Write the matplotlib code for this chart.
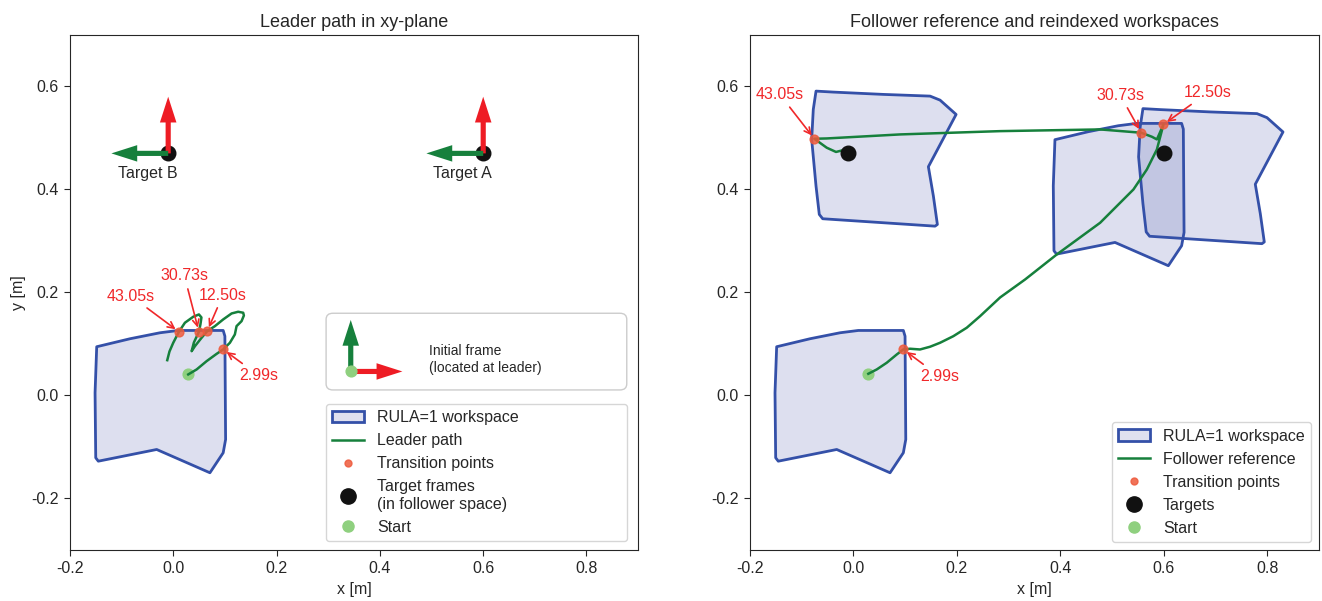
import numpy as np
import matplotlib
matplotlib.use("Agg")
import matplotlib.pyplot as plt
from matplotlib.patches import Polygon, Patch, FancyBboxPatch
from matplotlib.lines import Line2D

plt.rcParams['font.family'] = ['Liberation Sans', 'DejaVu Sans']
plt.rcParams['font.size'] = 11.5
plt.rcParams['axes.unicode_minus'] = False
plt.rcParams['text.color'] = '#262626'
plt.rcParams['axes.labelcolor'] = '#262626'
plt.rcParams['axes.edgecolor'] = '#262626'
plt.rcParams['xtick.color'] = '#262626'
plt.rcParams['ytick.color'] = '#262626'
plt.rcParams['xtick.major.size'] = 4.5
plt.rcParams['ytick.major.size'] = 4.5

# RULA=1 workspace outline (leader frame) and its rotated version
ws_x = [-0.1484, -0.0839, -0.0259, 0.0095, 0.0965, 0.0998, 0.1012, 0.0965,
        0.0708, -0.0323, -0.1453, -0.1503, -0.1516]
ws_y = [0.0946, 0.1101, 0.1217, 0.1262, 0.1262, 0.1151, -0.0854, -0.1113,
        -0.1501, -0.1049, -0.1276, -0.1210, 0.0052]
ws_rot_x = [-0.0723, -0.0389, 0.0578, 0.1482, 0.1675, 0.1985, 0.1449, 0.1546,
            0.1623, 0.1578, -0.0594, -0.0660, -0.0723, -0.0807, -0.0776]
ws_rot_y = [0.5909, 0.5890, 0.5845, 0.5812, 0.5734, 0.5456, 0.4441, 0.3870,
            0.3320, 0.3287, 0.3431, 0.3515, 0.4064, 0.4971, 0.5553]
ws_shift = (0.538, 0.402)
ws_rot_shift = (0.632, -0.034)

# leader path
leader_x = [0.0288, 0.0451, 0.0644, 0.0838, 0.0965, 0.1095, 0.1191, 0.1224,
            0.1321, 0.1366, 0.1352, 0.1255, 0.1128, 0.0965, 0.0805, 0.0656,
            0.0547, 0.0418, 0.0354, 0.0398, 0.0495, 0.0524, 0.0544, 0.0495,
            0.0385, 0.0224, 0.0108, -0.0002, -0.0075, -0.0118]
leader_y = [0.0408, 0.0505, 0.0666, 0.0808, 0.0893, 0.1023, 0.1184, 0.1346,
            0.1443, 0.1553, 0.1606, 0.1625, 0.1592, 0.1476, 0.1346, 0.1249,
            0.1120, 0.0957, 0.0860, 0.1029, 0.1237, 0.1379, 0.1515, 0.1573,
            0.1528, 0.1412, 0.1237, 0.1023, 0.0854, 0.0685]

# follower reference
follower_x = [0.0288, 0.0451, 0.0644, 0.0838, 0.0965, 0.1095, 0.1288, 0.1482,
              0.1675, 0.1932, 0.2191, 0.2449, 0.2836, 0.3319, 0.3932, 0.4770,
              0.5414, 0.5673, 0.5867, 0.5994, 0.5867, 0.5770, 0.5563, 0.4770,
              0.2836, 0.0901, -0.0516, -0.0756, -0.0516, -0.0337, -0.0195]
follower_y = [0.0421, 0.0505, 0.0635, 0.0796, 0.0893, 0.0907, 0.0893, 0.0946,
              0.1023, 0.1151, 0.1315, 0.1540, 0.1903, 0.2252, 0.2738, 0.3353,
              0.4000, 0.4388, 0.4777, 0.5262, 0.4971, 0.5023, 0.5101, 0.5165,
              0.5132, 0.5068, 0.4990, 0.4984, 0.4810, 0.4728, 0.4763]

trans_labels = ['2.99s', '12.50s', '30.73s', '43.05s']
leader_trans_x = [0.0965, 0.0656, 0.0495, 0.0108]
leader_trans_y = [0.0893, 0.1249, 0.1237, 0.1237]
follower_trans_x = [0.0965, 0.5994, 0.5563, -0.0756]
follower_trans_y = [0.0893, 0.5262, 0.5101, 0.4984]
leader_label_x = [0.165, 0.096, 0.0215, -0.082]
leader_label_y = [0.039, 0.195, 0.232, 0.193]
follower_label_x = [0.166, 0.685, 0.516, -0.142]
follower_label_y = [0.0375, 0.588, 0.583, 0.584]

target_names = ['Target A', 'Target B']
target_x = [0.60, -0.01]
target_y = [0.47, 0.47]
start_xy = (0.029, 0.042)
init_frame_xy = (0.3435, 0.0466)

c_edge = '#3450a8'
c_fill = '#5862b0'
c_path = '#16803c'
c_red = '#ee1c24'
c_trans = '#ee5a3c'
c_start = '#8fd07f'
c_text_red = '#f0282a'


def add_ws(ax, xs, ys, shift=(0.0, 0.0)):
    pts = np.column_stack([np.array(xs) + shift[0], np.array(ys) + shift[1]])
    ax.add_patch(Polygon(pts, closed=True, facecolor=c_fill, alpha=0.2,
                         edgecolor='none', zorder=1))
    ax.add_patch(Polygon(pts, closed=True, facecolor='none', edgecolor=c_edge,
                         lw=2, joinstyle='round', zorder=1.5))


def annotate_trans(ax, px, py, lx, ly):
    for lab, x, y, tx, ty in zip(trans_labels, px, py, lx, ly):
        ax.annotate(lab, xy=(x, y), xytext=(tx, ty), color=c_text_red,
                    fontsize=11.5, ha='center', va='center',
                    arrowprops=dict(arrowstyle='->', color=c_text_red, lw=1.2,
                                    shrinkA=2, shrinkB=3), zorder=6)


def setup(ax, title):
    ax.set_xlim(-0.2, 0.9)
    ax.set_ylim(-0.3, 0.7)
    ax.set_xticks(np.arange(-0.2, 0.81, 0.2))
    ax.set_yticks(np.arange(-0.2, 0.61, 0.2))
    ax.xaxis.set_major_formatter(plt.FormatStrFormatter('%.1f'))
    ax.yaxis.set_major_formatter(plt.FormatStrFormatter('%.1f'))
    ax.set_title(title, fontsize=13)
    ax.set_xlabel('x [m]')


fig = plt.figure(figsize=(13.22, 6.01), dpi=100)
ax1 = fig.add_axes([0.053, 0.0849, 0.4297, 0.857])
ax2 = fig.add_axes([0.5673, 0.0849, 0.4304, 0.857])

# left: leader path
setup(ax1, 'Leader path in xy-plane')
ax1.set_ylabel('y [m]')
add_ws(ax1, ws_x, ws_y)
ax1.plot(leader_x, leader_y, color=c_path, lw=1.8, zorder=3)
ax1.scatter(leader_trans_x, leader_trans_y, s=40, color=c_trans, alpha=0.85, zorder=4)
ax1.scatter(target_x, target_y, s=110, color='#111111', zorder=4)
ax1.scatter([start_xy[0]], [start_xy[1]], s=60, color=c_start, zorder=2.5)
for name, tx, ty in zip(target_names, target_x, target_y):
    ax1.arrow(tx, ty, 0, 0.11, width=0.01, head_width=0.032, head_length=0.05,
              length_includes_head=True, color=c_red, lw=0, zorder=5)
    ax1.arrow(tx, ty, -0.11, 0, width=0.01, head_width=0.032, head_length=0.05,
              length_includes_head=True, color=c_path, lw=0, zorder=5)
    ax1.text(tx - 0.04, ty - 0.039, name, ha='center', va='center')
annotate_trans(ax1, leader_trans_x, leader_trans_y, leader_label_x, leader_label_y)

# initial frame box
ax1.add_patch(FancyBboxPatch((0.4507, 0.3107), 0.5293, 0.1489,
                             boxstyle='round,pad=0,rounding_size=0.012',
                             transform=ax1.transAxes, facecolor='white',
                             edgecolor='0.8', lw=1, zorder=4))
ix, iy = init_frame_xy
ax1.arrow(ix, iy, 0, 0.1, width=0.01, head_width=0.032, head_length=0.05,
          length_includes_head=True, color=c_path, lw=0, zorder=5)
ax1.arrow(ix, iy, 0.1, 0, width=0.01, head_width=0.032, head_length=0.05,
          length_includes_head=True, color=c_red, lw=0, zorder=5)
ax1.scatter([ix], [iy], s=60, color=c_start, zorder=6)
ax1.text(0.495, 0.070, 'Initial frame\n(located at leader)', fontsize=10,
         ha='left', va='center', zorder=6)

h_ws = Patch(facecolor='#dfe0ef', edgecolor=c_edge, lw=2)
h_path = Line2D([], [], color=c_path, lw=1.8)
h_trans = Line2D([], [], ls='none', marker='o', ms=5, color=c_trans, alpha=0.85)
h_tgt = Line2D([], [], ls='none', marker='o', ms=11, color='#111111')
h_start = Line2D([], [], ls='none', marker='o', ms=8, color=c_start)
ax1.legend([h_ws, h_path, h_trans, h_tgt, h_start],
           ['RULA=1 workspace', 'Leader path', 'Transition points',
            'Target frames\n(in follower space)', 'Start'],
           loc='lower left', bbox_to_anchor=(0.4507, 0.0175, 0.5293, 0.25),
           mode='expand', borderaxespad=0, fontsize=11.5, handlelength=2.0)

# right: follower reference
setup(ax2, 'Follower reference and reindexed workspaces')
add_ws(ax2, ws_x, ws_y)
add_ws(ax2, ws_rot_x, ws_rot_y)
add_ws(ax2, ws_x, ws_y, ws_shift)
add_ws(ax2, ws_rot_x, ws_rot_y, ws_rot_shift)
ax2.plot(follower_x, follower_y, color=c_path, lw=1.8, zorder=3)
ax2.scatter(follower_trans_x, follower_trans_y, s=40, color=c_trans, alpha=0.85, zorder=4)
ax2.scatter(target_x, target_y, s=110, color='#111111', zorder=4)
ax2.scatter([start_xy[0]], [start_xy[1]], s=60, color=c_start, zorder=2.5)
annotate_trans(ax2, follower_trans_x, follower_trans_y, follower_label_x, follower_label_y)
ax2.legend([h_ws, h_path, h_trans, h_tgt, h_start],
           ['RULA=1 workspace', 'Follower reference', 'Transition points',
            'Targets', 'Start'],
           loc='lower right', fontsize=11.5, handlelength=2.0)

fig.savefig('out.png', dpi=100)
